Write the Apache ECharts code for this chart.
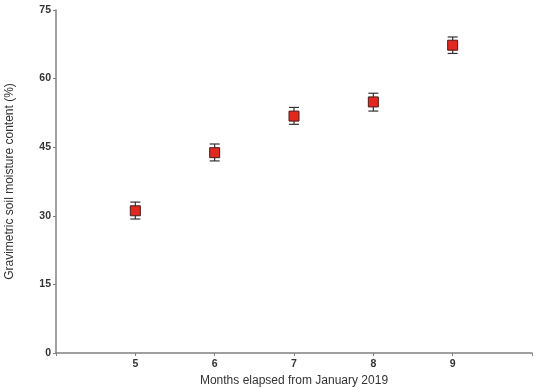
<!DOCTYPE html>
<html>
<head>
<meta charset="utf-8">
<script src="https://cdn.jsdelivr.net/npm/echarts@6/dist/echarts.min.js"></script>
<style>
  html, body { margin: 0; padding: 0; background: #fff; }
  #chart { width: 538px; height: 388px; }
</style>
</head>
<body>
<div id="chart"></div>
<script>
// months elapsed from January 2019
const months = [5, 6, 7, 8, 9];
// mean gravimetric soil moisture (%)
const moisture = [31.1, 43.8, 51.8, 54.9, 67.3];
// error bar bounds
const lower = [29.3, 42.0, 50.0, 52.9, 65.5];
const upper = [33.0, 45.7, 53.7, 56.8, 69.1];

const FONT = "'Liberation Sans Narrow', 'Liberation Sans', Arial, sans-serif";

const chart = echarts.init(document.getElementById("chart"));

const points = months.map((m, i) => [m, moisture[i]]);
const bars = months.map((m, i) => [m, lower[i], upper[i]]);

const option = {
  animation: false,
  grid: { left: 56, right: 6, top: 10, bottom: 35, containLabel: false, outerBoundsMode: "none" },
  xAxis: {
    type: "value",
    min: 4,
    max: 10,
    interval: 1,
    name: "Months elapsed from January 2019",
    nameLocation: "middle",
    nameGap: 22,
    nameTextStyle: { fontFamily: FONT, fontSize: 12, color: "#333" },
    axisLine: { lineStyle: { color: "#808080", width: 1.5 } },
    axisTick: { length: 3, lineStyle: { color: "#808080" } },
    axisLabel: {
      fontFamily: FONT,
      fontSize: 10.5,
      fontWeight: "bold",
      color: "#333",
      margin: 6,
      formatter: v => (v >= 5 && v <= 9 ? String(v) : "")
    },
    splitLine: { show: false }
  },
  yAxis: {
    type: "value",
    min: 0,
    max: 75,
    interval: 15,
    name: "Gravimetric soil moisture content (%)",
    nameLocation: "middle",
    nameGap: 40,
    nameTextStyle: { fontFamily: FONT, fontSize: 12, color: "#333" },
    axisLine: { show: true, lineStyle: { color: "#808080", width: 1.5 } },
    axisTick: { show: true, length: 3, lineStyle: { color: "#808080" } },
    axisLabel: { fontFamily: FONT, fontSize: 10.5, fontWeight: "bold", color: "#333", margin: 5 },
    splitLine: { show: false }
  },
  series: [
    {
      type: "custom",
      data: bars,
      z: 1,
      renderItem: function (params, api) {
        const x = api.value(0);
        const lo = api.coord([x, api.value(1)]);
        const hi = api.coord([x, api.value(2)]);
        const hw = 5;
        const style = { stroke: "#333", lineWidth: 1.2 };
        return {
          type: "group",
          children: [
            { type: "line", shape: { x1: lo[0], y1: lo[1], x2: hi[0], y2: hi[1] }, style: style },
            { type: "line", shape: { x1: lo[0] - hw, y1: lo[1], x2: lo[0] + hw, y2: lo[1] }, style: style },
            { type: "line", shape: { x1: hi[0] - hw, y1: hi[1], x2: hi[0] + hw, y2: hi[1] }, style: style }
          ]
        };
      }
    },
    {
      type: "scatter",
      data: points,
      symbol: "rect",
      symbolSize: 10,
      z: 2,
      itemStyle: { color: "#e2281f", borderColor: "#4a1c1c", borderWidth: 1, opacity: 1 }
    }
  ]
};

chart.setOption(option);
</script>
</body>
</html>
